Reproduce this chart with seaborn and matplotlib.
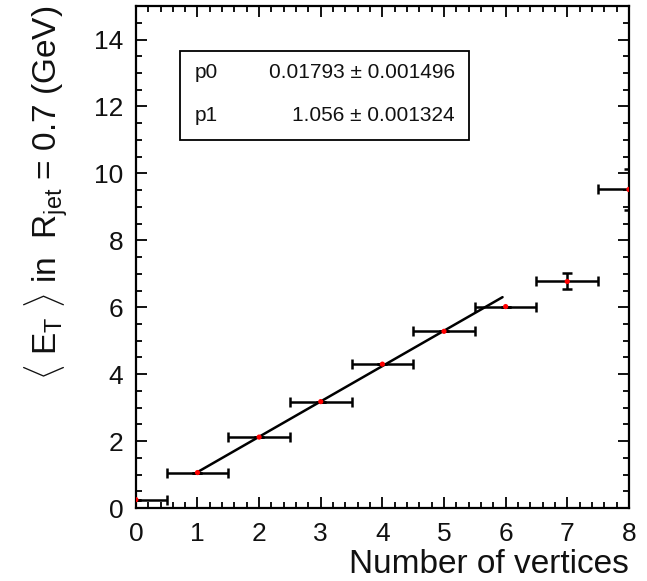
import matplotlib
matplotlib.use("Agg")
import matplotlib.pyplot as plt
import numpy as np
import pandas as pd
import seaborn as sns
from matplotlib.patches import Rectangle
from matplotlib.ticker import MultipleLocator

# data
vertices = [0, 1, 2, 3, 4, 5, 6, 7, 8]
mean_et = [0.25, 1.06, 2.12, 3.18, 4.30, 5.28, 6.02, 6.77, 9.52]
x_err = [0.5, 0.5, 0.5, 0.5, 0.5, 0.5, 0.5, 0.5, 0.5]
y_err = [0.0, 0.0, 0.0, 0.0, 0.0, 0.0, 0.0, 0.24, 0.6]

# linear fit shown in the stats box
p0 = 0.01793
p0_err = 0.001496
p1 = 1.056
p1_err = 0.001324
fit_range = [1.0, 5.95]


def main():
    sns.set_theme(style="ticks")
    plt.rcParams["font.family"] = ["Liberation Sans", "DejaVu Sans"]
    plt.rcParams["mathtext.fontset"] = "custom"
    plt.rcParams["mathtext.rm"] = "Liberation Sans"
    plt.rcParams["mathtext.it"] = "Liberation Sans:italic"
    plt.rcParams["text.color"] = "#111111"
    plt.rcParams["axes.labelcolor"] = "#111111"
    plt.rcParams["xtick.labelcolor"] = "#111111"
    plt.rcParams["ytick.labelcolor"] = "#111111"

    df = pd.DataFrame({"x": vertices, "y": mean_et})
    fit_x = np.array(fit_range)
    fit_df = pd.DataFrame({"x": fit_x, "y": p0 + p1 * fit_x})

    fig = plt.figure(figsize=(6.47, 5.81), dpi=100)
    ax = fig.add_axes([0.210, 0.1256, 0.762, 0.864])

    ax.errorbar(vertices, mean_et, xerr=x_err, yerr=y_err, fmt="none",
                ecolor="black", elinewidth=1.8, capsize=3.5, capthick=1.8,
                zorder=2)
    sns.lineplot(data=fit_df, x="x", y="y", color="black", linewidth=1.8,
                 ax=ax, zorder=3)
    sns.scatterplot(data=df, x="x", y="y", color="red", s=14,
                    edgecolor="none", ax=ax, zorder=4)

    ax.set_xlim(0, 8)
    ax.set_ylim(0, 15)
    ax.xaxis.set_major_locator(MultipleLocator(1))
    ax.xaxis.set_minor_locator(MultipleLocator(0.2))
    ax.yaxis.set_major_locator(MultipleLocator(2))
    ax.yaxis.set_minor_locator(MultipleLocator(0.5))
    ax.tick_params(which="both", direction="in", top=True, right=True,
                   color="black", width=1.3)
    ax.tick_params(which="major", length=8, labelsize=19)
    ax.tick_params(which="minor", length=4)
    ax.tick_params(axis="x", which="major", pad=10)
    ax.tick_params(axis="y", which="major", pad=9)
    for spine in ax.spines.values():
        spine.set_linewidth(1.6)
        spine.set_color("black")

    ax.set_xlabel("Number of vertices", fontsize=24, loc="right", labelpad=2)
    ax.set_ylabel(r"$\langle\ \mathrm{E}_\mathrm{T}\ \rangle$ in  "
                  r"$\mathrm{R}_\mathrm{jet}$ = 0.7 (GeV)",
                  fontsize=24, loc="top", labelpad=17)

    # stats box
    ax.add_patch(Rectangle((0.089, 0.733), 0.586, 0.177,
                           transform=ax.transAxes, fill=False,
                           edgecolor="black", linewidth=1.3, zorder=5))
    rows = [("p0", f"{p0:.5f} \u00b1 {p0_err}"),
            ("p1", f"{p1} \u00b1 {p1_err}")]
    for (name, val), yy in zip(rows, [0.8675, 0.781]):
        ax.text(0.12, yy, name, transform=ax.transAxes, fontsize=15,
                va="center", ha="left")
        ax.text(0.647, yy, val, transform=ax.transAxes, fontsize=15,
                va="center", ha="right")

    fig.savefig("out.png", dpi=100)


if __name__ == "__main__":
    main()
